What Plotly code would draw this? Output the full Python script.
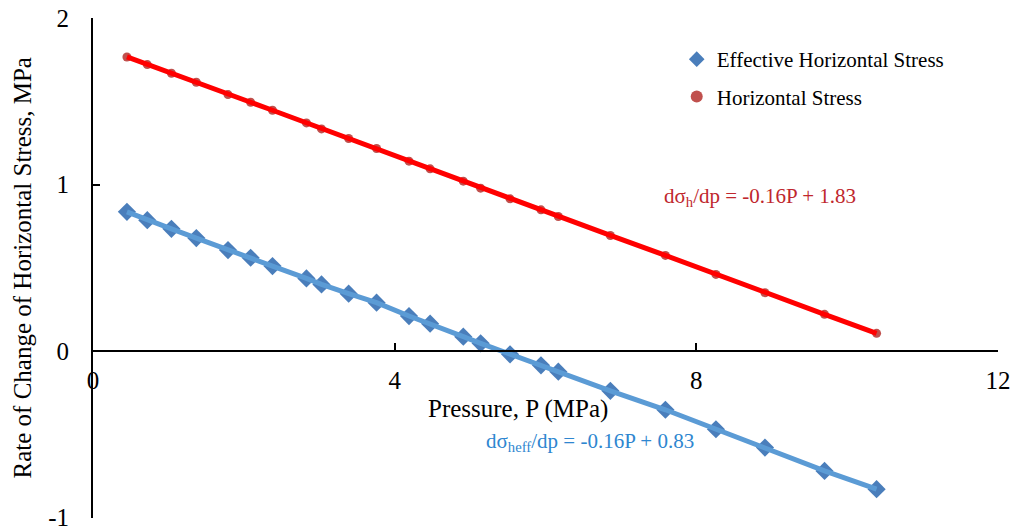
import plotly.graph_objects as go

# Pressure values (MPa)
pressure = [0.45, 0.72, 1.04, 1.37, 1.79, 2.09, 2.38, 2.83, 3.03, 3.39, 3.76, 4.19,
            4.47, 4.91, 5.14, 5.53, 5.94, 6.17, 6.86, 7.59, 8.26, 8.91, 9.70, 10.39]
# Rate of change of horizontal stress
horizontal = [1.766, 1.720, 1.668, 1.614, 1.540, 1.494, 1.446, 1.370, 1.334, 1.276, 1.216, 1.140,
              1.094, 1.020, 0.978, 0.914, 0.848, 0.808, 0.694, 0.574, 0.460, 0.350, 0.220, 0.106]
effective = [0.836, 0.786, 0.734, 0.678, 0.606, 0.560, 0.510, 0.436, 0.400, 0.344, 0.290, 0.210,
             0.164, 0.086, 0.046, -0.020, -0.086, -0.124, -0.239, -0.353, -0.470, -0.580, -0.720, -0.830]

x_ticks = [0, 4, 8, 12]
y_ticks = [-1, 0, 1, 2]

FONT = "Times New Roman, Liberation Serif, DejaVu Serif, serif"

fig = go.Figure()

# markers (legend entries)
fig.add_trace(go.Scatter(x=pressure, y=effective, mode="markers", name="Effective Horizontal Stress",
                         marker=dict(symbol="diamond", size=14, color="#4A7EBB"),
                         legendgroup="a"))
fig.add_trace(go.Scatter(x=pressure, y=horizontal, mode="markers", name="Horizontal Stress",
                         marker=dict(symbol="circle", size=9, color="#C0504D"),
                         legendgroup="b"))
# lines drawn on top
fig.add_trace(go.Scatter(x=pressure, y=effective, mode="lines", showlegend=False,
                         line=dict(color="#5B9BD5", width=5), hoverinfo="skip"))
fig.add_trace(go.Scatter(x=pressure, y=horizontal, mode="lines", showlegend=False,
                         line=dict(color="#FF0000", width=5), hoverinfo="skip"))

fig.update_layout(
    width=1014, height=531,
    margin=dict(l=93, r=16, t=18, b=13),
    paper_bgcolor="white", plot_bgcolor="white",
    font=dict(family=FONT, color="black"),
    showlegend=True,
    legend=dict(x=0.645, y=0.958, xanchor="left", yanchor="top",
                font=dict(family=FONT, size=21, color="black"),
                bgcolor="rgba(0,0,0,0)", tracegroupgap=7,
                itemsizing="constant"),
    xaxis=dict(range=[0, 12], tickvals=x_ticks, ticktext=[str(v) for v in x_ticks],
               showgrid=False, zeroline=False, showline=True, linecolor="black", linewidth=2,
               ticks="inside", ticklen=7, tickwidth=2, tickcolor="black",
               tickfont=dict(family=FONT, size=25, color="black"),
               anchor="free", position=1/3, ticklabelstandoff=7, automargin=False,
               ticklabeloverflow="allow"),
    yaxis=dict(range=[-1.003, 2], tickvals=y_ticks, ticktext=[str(v) for v in y_ticks],
               showgrid=False, zeroline=False, showline=True, linecolor="black", linewidth=2,
               ticks="inside", ticklen=7, tickwidth=2, tickcolor="black",
               tickfont=dict(family=FONT, size=25, color="black"),
               ticklabelstandoff=17, automargin=False, ticklabeloverflow="allow"),
    annotations=[
        dict(text="Pressure, P (MPa)", xref="paper", yref="paper", x=0.4695, y=0.2188,
             showarrow=False, font=dict(family=FONT, size=25, color="black"),
             xanchor="center", yanchor="middle"),
        dict(text="Rate of Change of Horizontal Stress, MPa", xref="paper", yref="paper",
             x=-0.079, y=0.5, textangle=-90, showarrow=False,
             font=dict(family=FONT, size=25, color="black"),
             xanchor="center", yanchor="middle"),
        dict(text="dσ<sub>h</sub>/dp = -0.16P + 1.83", xref="paper", yref="paper",
             x=0.737, y=0.643, showarrow=False, font=dict(family=FONT, size=21, color="#C0272D"),
             xanchor="center", yanchor="middle"),
        dict(text="dσ<sub>heff</sub>/dp = -0.16P + 0.83", xref="paper", yref="paper",
             x=0.549, y=0.153, showarrow=False, font=dict(family=FONT, size=21, color="#2E86D0"),
             xanchor="center", yanchor="middle"),
    ],
)

fig.write_html("out.html")
